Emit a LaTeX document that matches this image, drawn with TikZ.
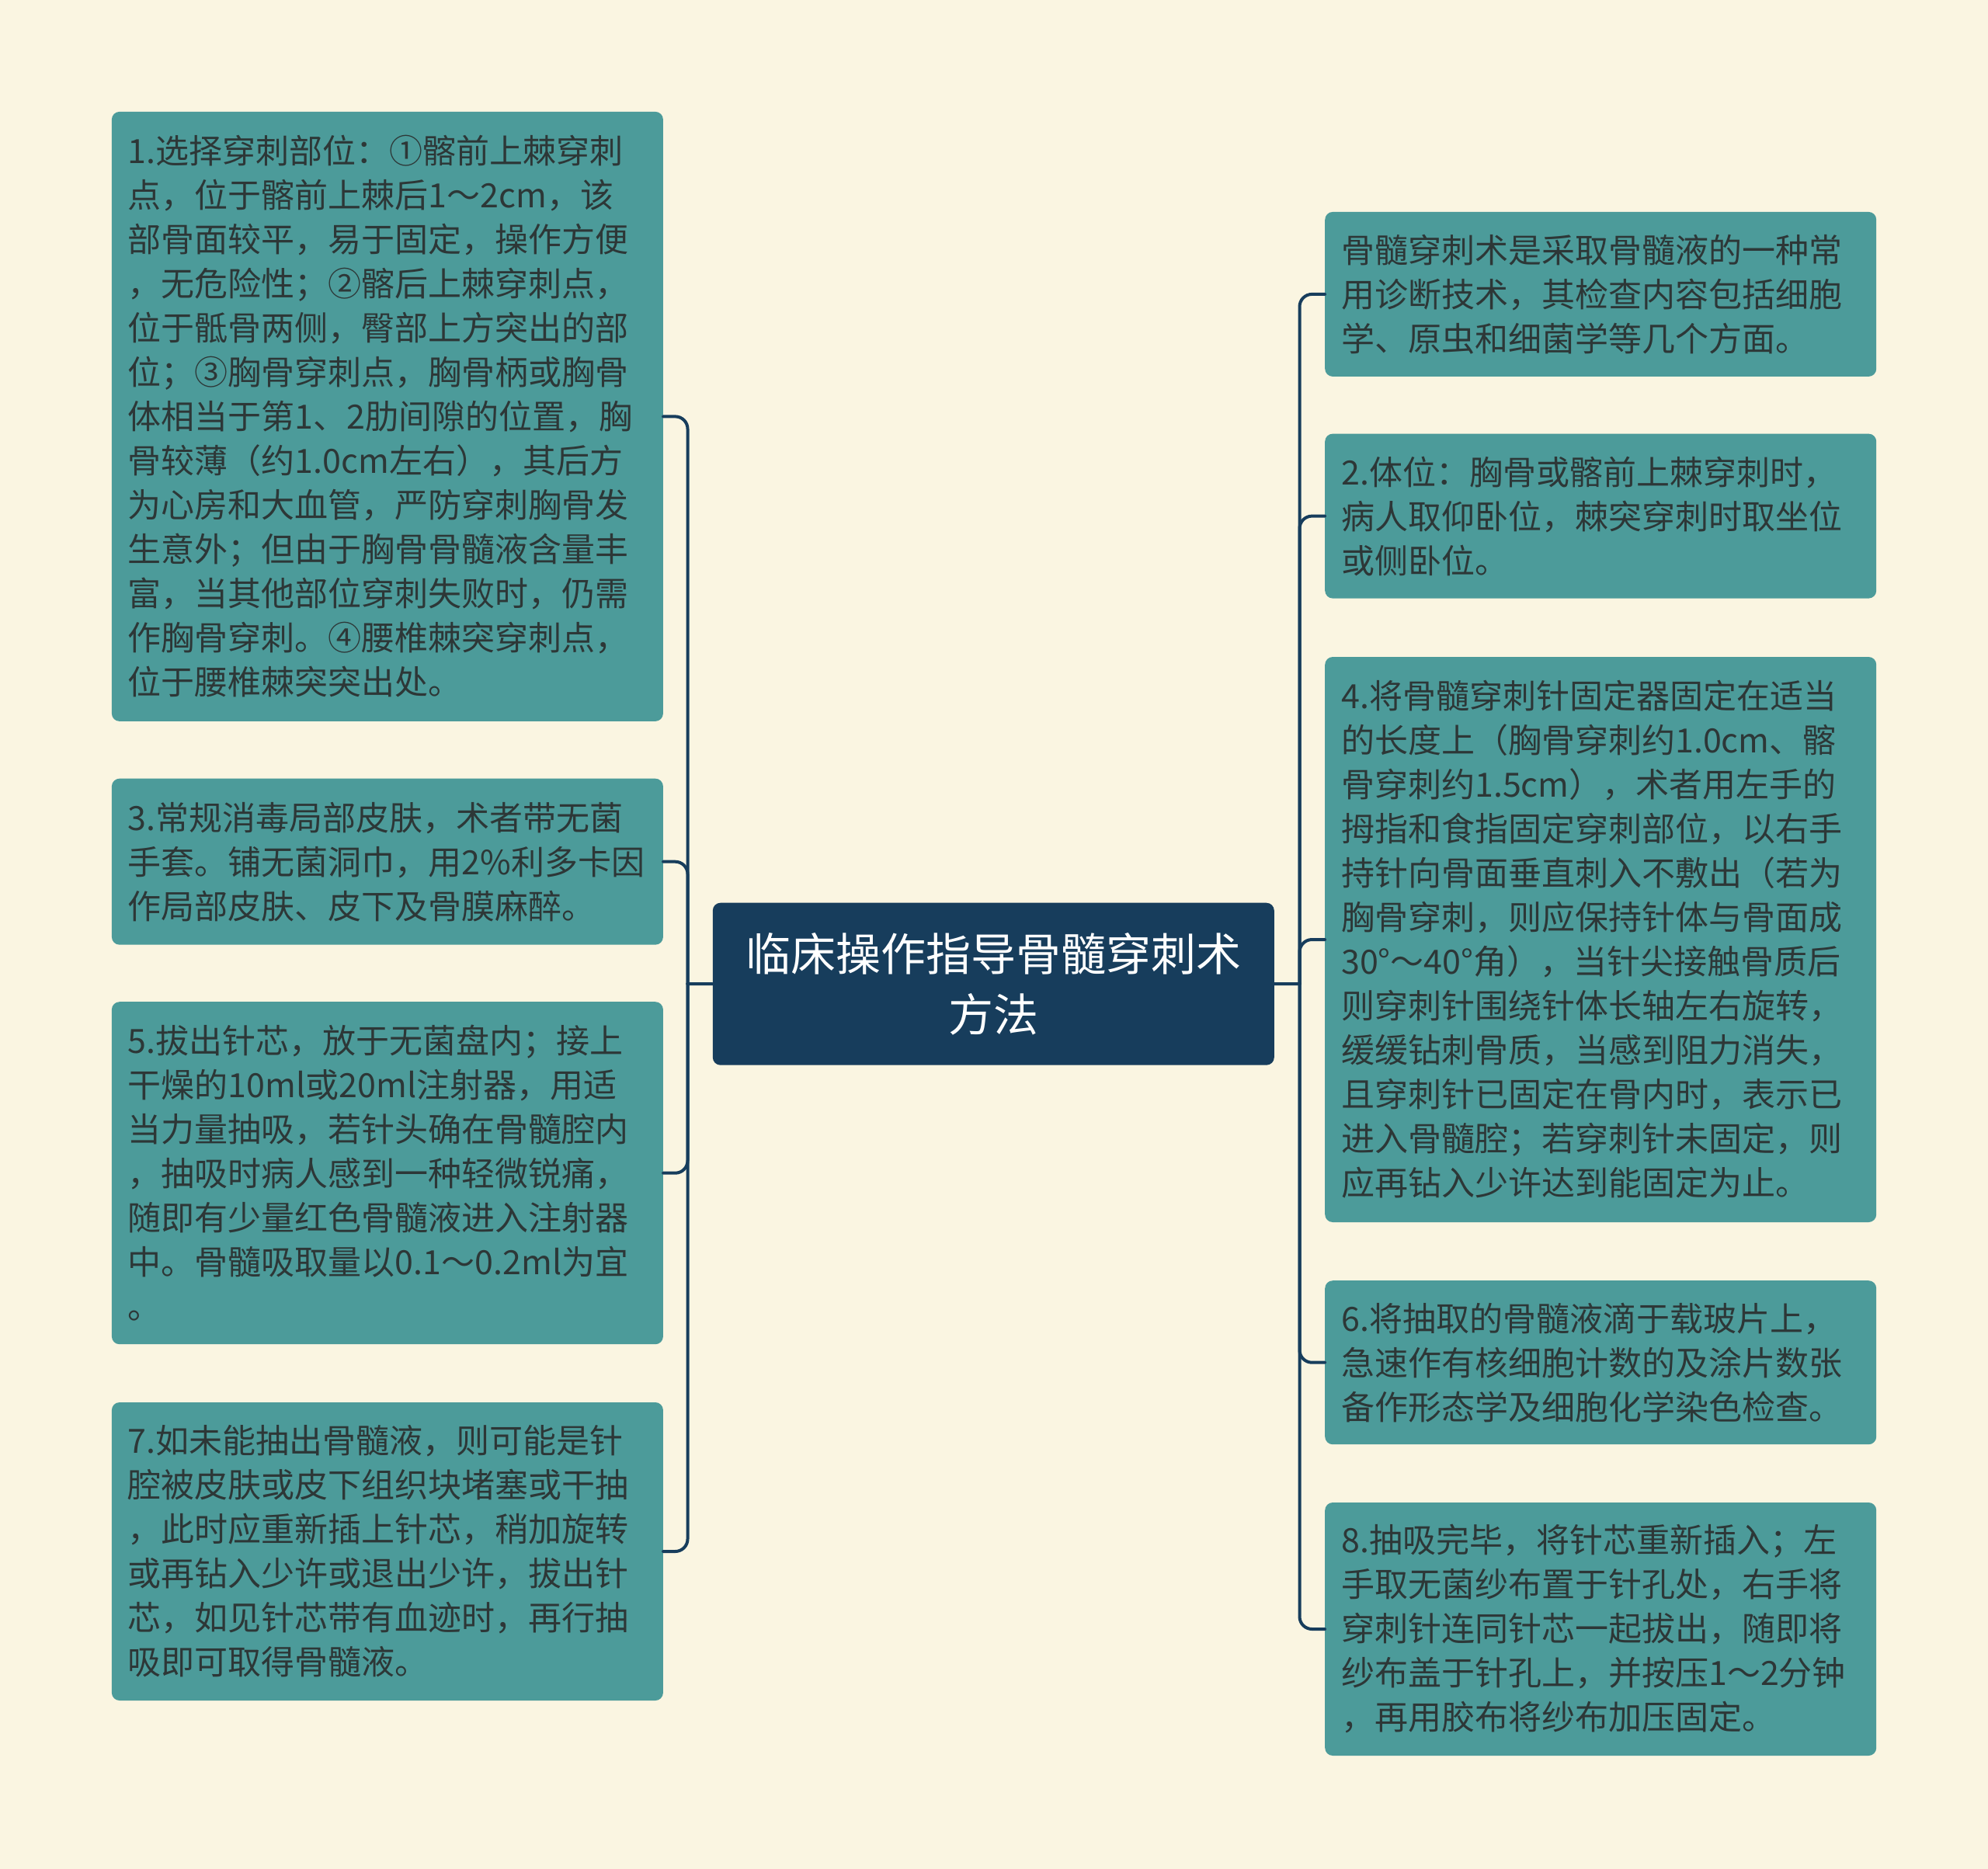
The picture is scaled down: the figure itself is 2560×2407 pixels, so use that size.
\documentclass[tikz,border=0pt]{standalone}
\usepackage{fontspec}
\newfontfamily\cjk{Noto Sans CJK SC}
\usepackage{tikz}
\definecolor{bgcream}{RGB}{250,245,225}
\definecolor{tealbox}{RGB}{76,155,154}
\definecolor{navyroot}{RGB}{23,61,92}
\definecolor{inkgray}{RGB}{45,55,55}

\begin{document}
\begin{tikzpicture}[line cap=round,line join=round,x=1pt,y=-1pt,
    topic/.style={rectangle,rounded corners=10pt,fill=tealbox,text=inkgray,anchor=north west,inner xsep=21pt,inner ysep=0pt,text width=668pt,align=left,minimum width=710pt,font=\cjk\fontsize{43}{57}\selectfont},
    mainbox/.style={rectangle,rounded corners=10pt,fill=navyroot,text=white,anchor=north west,inner sep=0pt,text width=723pt,align=center,minimum width=723pt,minimum height=209pt,font=\cjk\fontsize{58}{78}\selectfont},
    link/.style={line width=4pt,draw=navyroot,rounded corners=16pt}]
    \useasboundingbox (0,0) rectangle (2560,2407);
    \fill [bgcream] (0,0) rectangle (2560,2407);
    \draw (917.6,1162.5) node[mainbox] (center) {临床操作指导骨髓穿刺术\\方法};
    \draw (143.7,143.7) node[topic,minimum height=785pt] (n1) {1.选择穿刺部位：①髂前上棘穿刺\\点，位于髂前上棘后1～2cm，该\\部骨面较平，易于固定，操作方便\\，无危险性；②髂后上棘穿刺点，\\位于骶骨两侧，臀部上方突出的部\\位；③胸骨穿刺点，胸骨柄或胸骨\\体相当于第1、2肋间隙的位置，胸\\骨较薄（约1.0cm左右），其后方\\为心房和大血管，严防穿刺胸骨发\\生意外；但由于胸骨骨髓液含量丰\\富，当其他部位穿刺失败时，仍需\\作胸骨穿刺。④腰椎棘突穿刺点，\\位于腰椎棘突突出处。};
    \draw (143.7,1002.5) node[topic,minimum height=214pt] (n3) {3.常规消毒局部皮肤，术者带无菌\\手套。铺无菌洞巾，用2\%利多卡因\\作局部皮肤、皮下及骨膜麻醉。};
    \draw (143.7,1290) node[topic,minimum height=441pt] (n5) {5.拔出针芯，放于无菌盘内；接上\\干燥的10ml或20ml注射器，用适\\当力量抽吸，若针头确在骨髓腔内\\，抽吸时病人感到一种轻微锐痛，\\随即有少量红色骨髓液进入注射器\\中。骨髓吸取量以0.1～0.2ml为宜\\。};
    \draw (143.7,1805.8) node[topic,minimum height=384pt] (n7) {7.如未能抽出骨髓液，则可能是针\\腔被皮肤或皮下组织块堵塞或干抽\\，此时应重新插上针芯，稍加旋转\\或再钻入少许或退出少许，拔出针\\芯，如见针芯带有血迹时，再行抽\\吸即可取得骨髓液。};
    \draw (1706,272.7) node[topic,minimum height=212pt] (n0) {骨髓穿刺术是采取骨髓液的一种常\\用诊断技术，其检查内容包括细胞\\学、原虫和细菌学等几个方面。};
    \draw (1706,558.4) node[topic,minimum height=212pt] (n2) {2.体位：胸骨或髂前上棘穿刺时，\\病人取仰卧位，棘突穿刺时取坐位\\或侧卧位。};
    \draw (1706,845.8) node[topic,minimum height=728pt] (n4) {4.将骨髓穿刺针固定器固定在适当\\的长度上（胸骨穿刺约1.0cm、髂\\骨穿刺约1.5cm），术者用左手的\\拇指和食指固定穿刺部位，以右手\\持针向骨面垂直刺入不敷出（若为\\胸骨穿刺，则应保持针体与骨面成\\30°～40°角），当针尖接触骨质后\\则穿刺针围绕针体长轴左右旋转，\\缓缓钻刺骨质，当感到阻力消失，\\且穿刺针已固定在骨内时，表示已\\进入骨髓腔；若穿刺针未固定，则\\应再钻入少许达到能固定为止。};
    \draw (1706,1649) node[topic,minimum height=211pt] (n6) {6.将抽取的骨髓液滴于载玻片上，\\急速作有核细胞计数的及涂片数张\\备作形态学及细胞化学染色检查。};
    \draw (1706,1934.8) node[topic,minimum height=326pt] (n8) {8.抽吸完毕，将针芯重新插入；左\\手取无菌纱布置于针孔处，右手将\\穿刺针连同针芯一起拔出，随即将\\纱布盖于针孔上，并按压1～2分钟\\，再用胶布将纱布加压固定。};
    \coordinate (lhub) at (885.5,1267);
    \coordinate (rhub) at (1673.5,1267);
    \draw [link] (center.west)-- (lhub);
    \draw [link] (center.east)-- (rhub);
    \draw [link] (lhub) |- (n1.east);
    \draw [link] (lhub) |- (n3.east);
    \draw [link] (lhub) |- (n5.east);
    \draw [link] (lhub) |- (n7.east);
    \draw [link] (rhub) |- (n0.west);
    \draw [link] (rhub) |- (n2.west);
    \draw [link] (rhub) |- (n4.west);
    \draw [link] (rhub) |- (n6.west);
    \draw [link] (rhub) |- (n8.west);
\end{tikzpicture}
\end{document}
